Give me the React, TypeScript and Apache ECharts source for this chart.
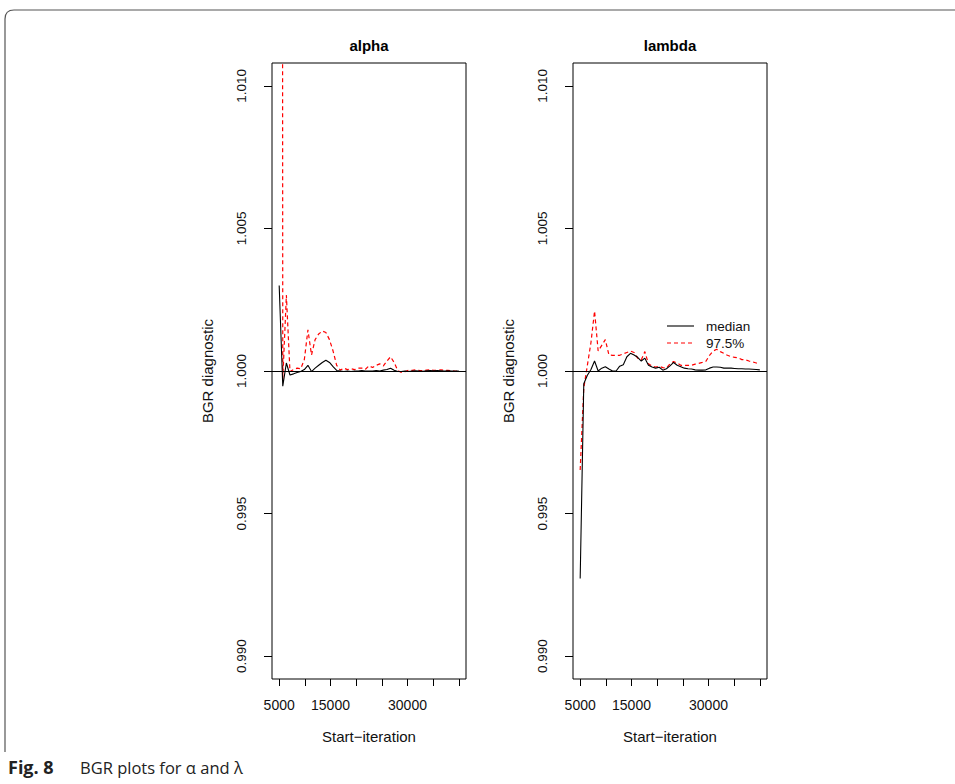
import React, { useEffect, useRef } from "react";
import * as echarts from "echarts";

const iterations = [
  5000, 5700, 6400, 7100, 7800, 8500, 9200, 9900, 10600, 11300,
  12000, 12700, 13400, 14100, 14800, 15500, 16200, 16900, 17600, 18300,
  19000, 19700, 20400, 21100, 21800, 22500, 23200, 23900, 24600, 25300,
  26000, 26700, 27400, 28100, 28800, 29500, 30200, 30900, 31600, 32300,
  33000, 33700, 34400, 35100, 35800, 36500, 37200, 37900, 38600, 39300,
  40000,
];

const alphaMedian = [
  1.003, 0.99947, 1.00028, 0.99986, 0.9999, 0.99995, 0.99998, 1.00005, 1.0002, 0.99998,
  1.0001, 1.0002, 1.0003, 1.00038, 1.0003, 1.00015, 1.00002, 1.0, 0.99998, 1.0,
  0.99998, 1.0, 1.0, 1.00002, 1.0, 1.0, 1.0, 1.00002, 1.0, 1.00003,
  1.00005, 1.0001, 1.00003, 0.99998, 0.99998, 1.0, 0.99998, 1.0, 1.00001, 1.0,
  0.99999, 1.00001, 1.00002, 1.00001, 1.00002, 1.00001, 1.0, 1.00001, 1.0, 1.0,
  1.0,
];

const alphaUpper = [
  1.2, 0.9997, 1.00266, 0.99998, 1.00005, 1.0001, 1.00008, 1.0004, 1.00144, 1.00056,
  1.0011, 1.0013, 1.0014, 1.00135, 1.0011, 1.0007, 1.0002, 1.00003, 1.0001, 1.00005,
  1.00008, 1.00005, 1.0001, 1.0001, 1.00006, 1.00018, 1.00012, 1.0002, 1.00025, 1.00018,
  1.00035, 1.0005, 1.0003, 1.00002, 0.99995, 0.99998, 1.00003, 1.00002, 1.00004, 1.00002,
  1.00001, 1.00003, 1.00004, 1.00002, 1.00003, 1.00004, 1.00003, 1.00002, 1.00001, 0.99999,
  1.0,
];

const lambdaMedian = [
  0.99272, 0.99955, 0.99985, 1.00005, 1.00035, 1.0, 1.0001, 1.00015, 1.00007, 1.0,
  1.0, 1.00017, 1.00022, 1.0005, 1.00062, 1.00056, 1.00048, 1.00035, 1.00045, 1.0002,
  1.00014, 1.0001, 1.00013, 1.00003, 1.00008, 1.00018, 1.0003, 1.0002, 1.00015, 1.0001,
  1.00008, 1.00007, 1.00004, 1.00003, 1.00003, 1.00004, 1.0001, 1.00014, 1.00014, 1.00013,
  1.0001, 1.0001, 1.0001, 1.00009, 1.00008, 1.00008, 1.00007, 1.00007, 1.00006, 1.00005,
  1.00004,
];

const lambdaUpper = [
  0.99653, 0.9994, 1.0002, 1.001, 1.0021, 1.0007, 1.0009, 1.0011, 1.00056, 1.00055,
  1.00055, 1.00055, 1.0006, 1.00065, 1.0007, 1.00065, 1.00045, 1.00039, 1.00068, 1.00025,
  1.00018, 1.00014, 1.00016, 1.00012, 1.0001, 1.00025, 1.00033, 1.00028, 1.0002, 1.0002,
  1.0002, 1.0002, 1.00024, 1.00027, 1.0003, 1.00034, 1.00055, 1.0007, 1.00076, 1.00068,
  1.00062, 1.00055, 1.0005, 1.00048, 1.00046, 1.0004, 1.00039, 1.00035, 1.00032, 1.00028,
  1.00025,
];

const xTicks = [5000, 10000, 15000, 20000, 25000, 30000, 35000, 40000];
const xLabels = [5000, 15000, 30000];
const yTicks = [0.99, 0.995, 1.0, 1.005, 1.01];
const panelTitles = ["alpha", "lambda"];
const legendNames = ["median", "97.5%"];

const RFONT = "'Liberation Sans', Arial, Helvetica, sans-serif";
const CFONT = "'Open Sans', 'Noto Sans', sans-serif";

const frameD = "M5 752 L5 19 Q5 10 14 10 L960 10";
echarts.graphic.registerShape("frame", echarts.graphic.extendPath(frameD, {}) as any);

function zip(xs: number[], ys: number[]) {
  return xs.map((x, i) => [x, ys[i]]);
}

export default function App() {
  const ref = useRef<HTMLDivElement>(null);
  useEffect(() => {
    if (!ref.current) return;
    const chart = echarts.init(ref.current, undefined, { renderer: "svg" });
    const grids = [
      { left: 272, top: 63, width: 194, height: 616 },
      { left: 573, top: 63, width: 194, height: 616 },
    ];
    const xAxes = grids.map((_, i) => ({
      type: "value",
      gridIndex: i,
      min: 3600,
      max: 41400,
      splitLine: { show: false },
      axisLine: { show: false },
      axisTick: { show: true, length: 7, inside: false, customValues: xTicks, lineStyle: { color: "#000", width: 1 } },
      axisLabel: {
        show: true,
        customValues: xLabels,
        margin: 19,
        fontSize: 14,
        fontFamily: RFONT,
        color: "#111",
        formatter: (v: number) => String(v),
      },
      name: "Start\u2212iteration",
      nameLocation: "middle",
      nameGap: 50,
      nameTextStyle: { fontSize: 15, fontFamily: RFONT, color: "#111" },
    }));
    const yAxes = grids.map((_, i) => ({
      type: "value",
      gridIndex: i,
      min: 0.9892,
      max: 1.0108,
      splitLine: { show: false },
      axisLine: { show: false },
      axisTick: { show: true, length: 8, inside: false, customValues: yTicks, lineStyle: { color: "#000", width: 1 } },
      axisLabel: {
        show: true,
        customValues: yTicks,
        rotate: 90,
        margin: 24,
        fontSize: 13.5,
        fontFamily: RFONT,
        color: "#111",
        formatter: (v: number) => v.toFixed(3),
      },
      name: "BGR diagnostic",
      nameLocation: "middle",
      nameRotate: 90,
      nameGap: 57,
      nameTextStyle: { fontSize: 15, fontFamily: RFONT, color: "#111" },
    }));
    const mkSeries = (name: string, data: number[][], idx: number, dashed: boolean, withRef: boolean) => ({
      type: "line",
      name,
      xAxisIndex: idx,
      yAxisIndex: idx,
      data,
      symbol: "none",
      showSymbol: false,
      clip: true,
      lineStyle: dashed
        ? { color: "#ff0000", width: 1.2, type: [4, 3] }
        : { color: "#000000", width: 1.1 },
      z: dashed ? 3 : 4,
      markLine: withRef
        ? {
            silent: true,
            symbol: "none",
            label: { show: false },
            lineStyle: { color: "#000", width: 1, type: "solid" },
            data: [{ yAxis: 1 }],
          }
        : undefined,
    });
    const lgX = 667;
    const lgY = 326;
    chart.setOption({
      animation: false,
      backgroundColor: "#ffffff",
      grid: grids.map((g) => ({ ...g, show: true, borderColor: "#000", borderWidth: 1, backgroundColor: "transparent" })),
      xAxis: xAxes,
      yAxis: yAxes,
      series: [
        mkSeries(legendNames[1], zip(iterations, alphaUpper), 0, true, false),
        mkSeries(legendNames[0], zip(iterations, alphaMedian), 0, false, true),
        mkSeries(legendNames[1], zip(iterations, lambdaUpper), 1, true, false),
        mkSeries(legendNames[0], zip(iterations, lambdaMedian), 1, false, true),
      ],
      graphic: [
        {
          type: "frame",
          x: 0,
          y: 0,
          silent: true,
          style: { fill: "none", stroke: "#555", lineWidth: 1.2 },
        },
        {
          type: "text",
          x: 369,
          y: 45,
          style: { text: panelTitles[0], fontSize: 15, fontWeight: "bold", fontFamily: RFONT, fill: "#000", align: "center", verticalAlign: "middle" },
        },
        {
          type: "text",
          x: 670,
          y: 45,
          style: { text: panelTitles[1], fontSize: 15, fontWeight: "bold", fontFamily: RFONT, fill: "#000", align: "center", verticalAlign: "middle" },
        },
        {
          type: "line",
          shape: { x1: lgX, y1: lgY, x2: lgX + 27, y2: lgY },
          style: { stroke: "#000", lineWidth: 1.1 },
        },
        {
          type: "line",
          shape: { x1: lgX, y1: lgY + 17, x2: lgX + 27, y2: lgY + 17 },
          style: { stroke: "#ff0000", lineWidth: 1.2, lineDash: [4, 3] },
        },
        {
          type: "text",
          x: 706,
          y: lgY,
          style: { text: legendNames[0], fontSize: 13.5, fontFamily: RFONT, fill: "#111", align: "left", verticalAlign: "middle" },
        },
        {
          type: "text",
          x: 706,
          y: lgY + 17,
          style: { text: legendNames[1], fontSize: 13.5, fontFamily: RFONT, fill: "#111", align: "left", verticalAlign: "middle" },
        },
        {
          type: "text",
          x: 8,
          y: 767,
          style: {
            text: "Fig. 8",
            fontSize: 18,
            fontWeight: "bold",
            fontFamily: CFONT,
            fill: "#222",
            verticalAlign: "middle",
          },
        },
        {
          type: "text",
          x: 80,
          y: 767,
          style: {
            text: "BGR plots for \u03b1 and \u03bb",
            fontSize: 16.5,
            fontFamily: CFONT,
            fill: "#222",
            verticalAlign: "middle",
          },
        },
      ],
    });
    return () => chart.dispose();
  }, []);
  return (
    <div
      ref={ref}
      style={{ position: "absolute", left: 0, top: 0, width: 955, height: 784, background: "#fff" }}
    />
  );
}
